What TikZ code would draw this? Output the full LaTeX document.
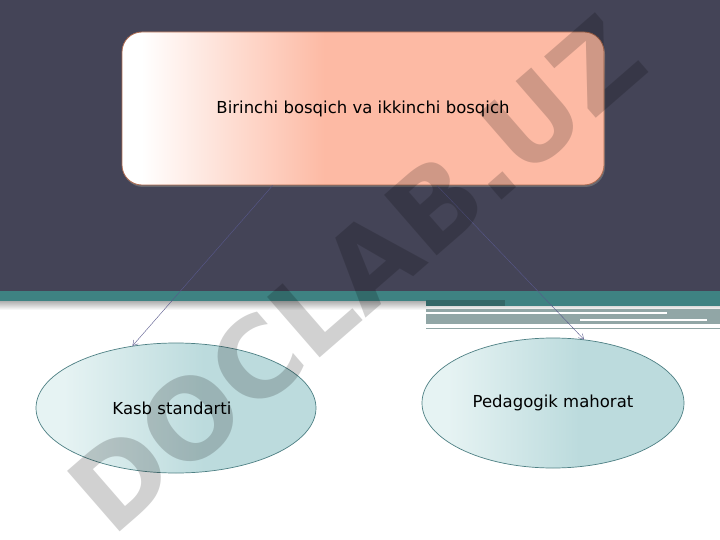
\documentclass[tikz,border=0pt]{standalone}
\usepackage{fontspec}
\setmainfont{DejaVu Sans}
\usepackage{xcolor}
\usepackage{tikz}
\usetikzlibrary{arrows.meta,positioning,calc,shapes.geometric,shadows}
\definecolor{bgdark}{RGB}{68,68,87}
\definecolor{tealband}{RGB}{62,130,130}
\definecolor{tealdark}{RGB}{52,104,104}
\definecolor{graybar}{RGB}{145,166,166}
\definecolor{salmonbox}{RGB}{253,186,164}
\definecolor{boxrim}{RGB}{176,108,80}
\definecolor{ovalfill}{RGB}{188,219,221}
\definecolor{ovallight}{RGB}{230,243,243}
\definecolor{ovalrim}{RGB}{78,128,132}
\definecolor{linkcol}{RGB}{88,88,140}
\pgfdeclarehorizontalshading{boxshade}{100bp}{color(0bp)=(white); color(27bp)=(white); color(46bp)=(salmonbox); color(100bp)=(salmonbox)}
\pgfdeclarehorizontalshading{ovalshade}{100bp}{color(0bp)=(ovallight); color(30bp)=(ovallight); color(55bp)=(ovalfill); color(100bp)=(ovalfill)}
\tikzset{
  stagebox/.style={draw=boxrim,line width=0.8pt,rounded corners=20pt,shading=boxshade,
    minimum width=482pt,minimum height=153pt,inner sep=0pt,
    drop shadow={shadow xshift=1pt,shadow yshift=-2pt,opacity=0.6}},
  oval/.style={ellipse,draw=ovalrim,line width=0.7pt,shading=ovalshade,inner sep=0pt},
  link/.style={-{Straight Barb[length=5pt,width=6pt]},draw=linkcol,line width=0.4pt},
  label/.style={font=\fontsize{16.5}{19}\selectfont}
}

\begin{document}
\begin{tikzpicture}[x=1pt,y=-1pt]
\useasboundingbox (0,0) rectangle (720,540);
% background
\fill[white] (0,0) rectangle (720,540);
\fill[bgdark] (0,0) rectangle (720,292);
\shade[top color=gray!70,bottom color=white] (0,300) rectangle (720,310);
\fill[tealband] (0,291) rectangle (720,301);
\fill[tealband] (505,291) rectangle (720,306);
\fill[tealdark] (426,300) rectangle (505,306);
\fill[graybar] (426,309) rectangle (720,324);
\fill[white] (426,312) rectangle (667,314);
\fill[white] (580,319) rectangle (707,321);
\draw[graybar,line width=1pt] (426,328) -- (720,328);

\node[stagebox,label] (stage) at (363,108.5) {Birinchi bosqich va ikkinchi bosqich};

\node[oval,label,minimum width=280pt,minimum height=130pt] (kasb) at (176,408) {\hspace*{-8pt}Kasb standarti};
\node[oval,label,minimum width=262pt,minimum height=130pt] (ped) at (553,403) {Pedagogik mahorat};

\coordinate (s1) at ($(stage.south west)!0.313!(stage.south east)$);
\coordinate (s2) at ($(stage.south west)!0.653!(stage.south east)$);
\draw[link] (s1) -- (kasb.125);
\draw[link] (s2) -- (ped.64);

% watermark
\node[rotate=41,text=black,opacity=0.18,font=\fontsize{110}{114}\selectfont\bfseries] (mark) at (356,274) {DOCLAB.UZ};
\end{tikzpicture}
\end{document}
